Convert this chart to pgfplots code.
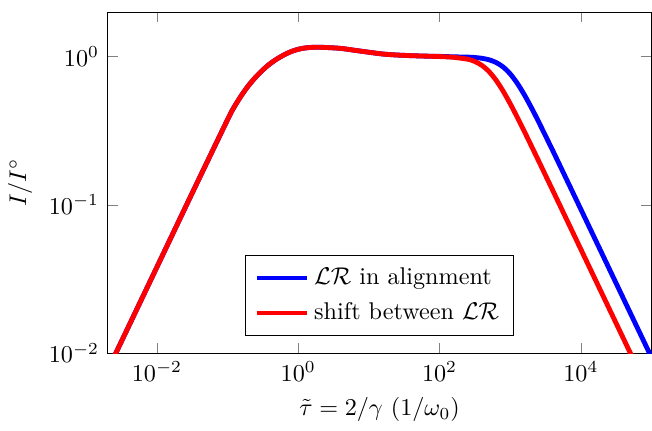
\documentclass[border=0pt]{standalone}
\usepackage{pgfplots}
\pgfplotsset{compat=1.18}

% tau (1/omega_0) and I/I0
\pgfplotstableread{
tau        I
0.001995   0.00759
0.003162   0.01202
0.01       0.0380
0.03162    0.1202
0.1        0.3758
0.1259     0.4624
0.1585     0.5508
0.1995     0.6412
0.2512     0.7295
0.3162     0.8147
0.3981     0.8954
0.5012     0.9660
0.6310     1.0292
0.7943     1.0827
1.0        1.1220
1.259      1.1455
1.585      1.1561
1.995      1.1574
2.512      1.1535
3.162      1.1468
3.981      1.1376
5.012      1.1220
6.310      1.1041
7.943      1.0877
10.0       1.0715
15.85      1.042
25.12      1.026
39.81      1.016
63.10      1.009
100.0      1.005
158.5      0.998
251.2      0.9936
316.2      0.9874
398.1      0.9754
501.2      0.9530
631.0      0.9141
794.3      0.8522
1000       0.7655
1259       0.6614
1585       0.5535
1995       0.4528
2512       0.3653
3981       0.2335
6310       0.1477
10000      0.0933
31623      0.02951
100000     0.00933
}\aligned

\pgfplotstableread{
tau        I
0.001995   0.00759
0.003162   0.01202
0.01       0.0380
0.03162    0.1202
0.1        0.3758
0.1259     0.4624
0.1585     0.5508
0.1995     0.6412
0.2512     0.7295
0.3162     0.8147
0.3981     0.8954
0.5012     0.9660
0.6310     1.0292
0.7943     1.0827
1.0        1.1220
1.259      1.1455
1.585      1.1561
1.995      1.1574
2.512      1.1535
3.162      1.1468
3.981      1.1376
5.012      1.1220
6.310      1.1041
7.943      1.0877
10.0       1.0715
15.85      1.042
25.12      1.026
39.81      1.016
63.10      1.0085
100.0      1.002
158.5      0.9897
251.2      0.9612
316.2      0.9281
398.1      0.8733
501.2      0.7938
631.0      0.6937
794.3      0.5856
1000       0.4817
1259       0.3901
1585       0.3130
1995       0.2498
2512       0.1990
3981       0.1258
6310       0.07941
10000      0.05012
31623      0.01585
63096      0.00794
}\shifted

\begin{document}
\begin{tikzpicture}
\begin{loglogaxis}[
    scale only axis,
    width=225pt,
    height=141pt,
    xmin=0.002, xmax=1e5,
    ymin=0.01, ymax=2,
    xtick={1e-2,1,1e2,1e4},
    ytick={1e-2,1e-1,1},
    minor tick style={draw=none},
    xlabel={$\tilde{\tau} = 2/\gamma\ (1/\omega_0)$},
    ylabel={$I/I^\circ$},
    legend style={at={(0.5,0.05)}, anchor=south,
        inner xsep=4pt, inner ysep=3pt, row sep=2pt},
    legend cell align=left,
    legend image code/.code={\draw[#1] (0cm,0cm) -- (0.72cm,0cm);},
]
\addplot[blue, line width=2pt, smooth] table[x=tau, y=I] {\aligned};
\addlegendentry{$\mathcal{LR}$ in alignment}
\addplot[red, line width=2pt, smooth] table[x=tau, y=I] {\shifted};
\addlegendentry{shift between $\mathcal{LR}$}
\end{loglogaxis}
\path ([yshift=5pt]current axis.north);
\end{tikzpicture}
\end{document}
